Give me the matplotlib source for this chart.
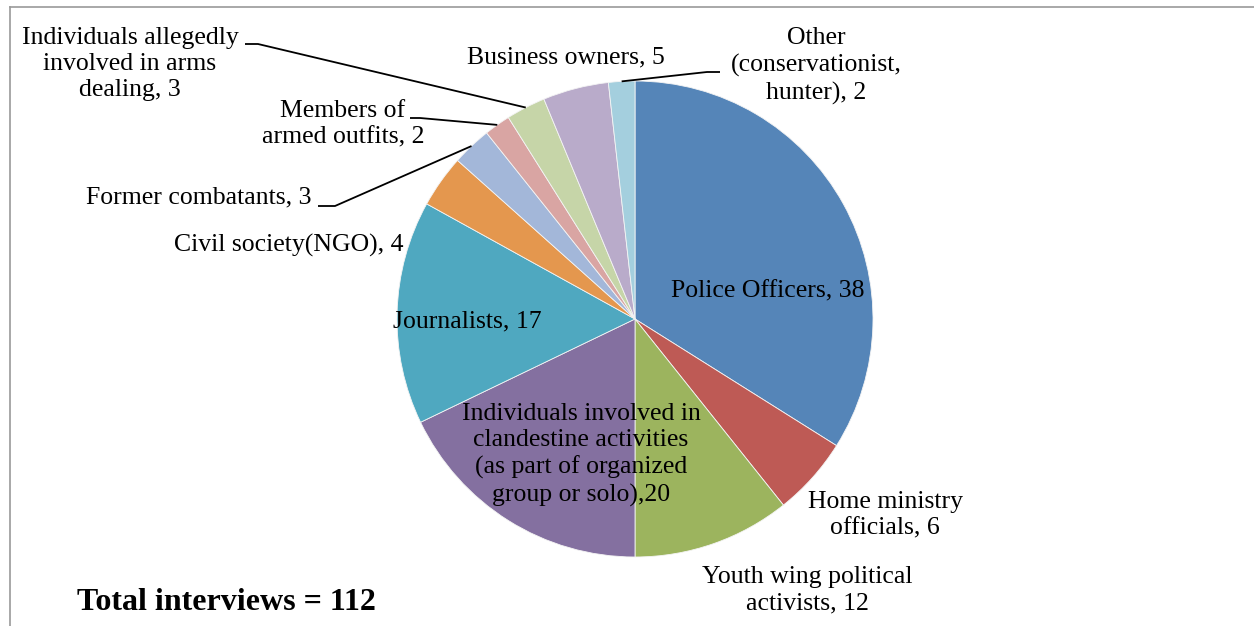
import numpy as np
import matplotlib.pyplot as plt
from matplotlib.lines import Line2D

# interview counts, clockwise from 12 o'clock
categories = [
    "Police Officers", "Home ministry officials", "Youth wing political activists",
    "Individuals involved in clandestine activities", "Journalists",
    "Civil society(NGO)", "Former combatants", "Members of armed outfits",
    "Individuals allegedly involved in arms dealing", "Business owners",
    "Other (conservationist, hunter)",
]
counts = [38, 6, 12, 20, 17, 4, 3, 2, 3, 5, 2]
labels = [
    "Police Officers, 38",
    "Home ministry\nofficials, 6",
    "Youth wing political\nactivists, 12",
    "Individuals involved in\nclandestine activities\n(as part of organized\ngroup or solo),20",
    "Journalists, 17",
    "Civil society(NGO), 4",
    "Former combatants, 3",
    "Members of\narmed outfits, 2",
    "Individuals allegedly\ninvolved in arms\ndealing, 3",
    "Business owners, 5",
    "Other\n(conservationist,\nhunter), 2",
]
colors = ["#5585B8", "#BE5A55", "#9CB45E", "#8470A0", "#4FA8C0", "#E4974E",
          "#A3B7D9", "#D9A5A3", "#C6D5A8", "#B9ABCA", "#A4CFDE"]

W, H = 1254, 626
fig = plt.figure(figsize=(W / 100, H / 100), dpi=100)
ax = fig.add_axes([0, 0, 1, 1])

cx, cy, r = 635, H - 319, 238
wedges, _ = ax.pie(counts, colors=colors, startangle=90, counterclock=False,
                   center=(cx, cy), radius=r, frame=True,
                   wedgeprops=dict(linewidth=0.6, edgecolor="#f4f4f4"))
ax.set_xlim(0, W)
ax.set_ylim(0, H)
ax.set_aspect("equal")
ax.axis("off")

font = dict(family="Liberation Serif", fontsize=18.5, color="black")

# label positions in pixel coords (y from top)
label_pos = [
    (768, 291),
    (885, 515),
    (807, 590),
    (581, 455),
    (467, 321),
    (289, 245),
    (199, 197),
    (343, 124),
    (130, 64),
    (566, 57),
    (816, 66),
]
for lab, (x, y) in zip(labels, label_pos):
    ax.text(x, H - y, lab, ha="center", va="center", linespacing=1.25, **font)

# leader lines: (wedge index, elbow point, end point) in pixel coords
leaders = [
    (8, (258, 44), (245, 44)),
    (7, (420, 118), (410, 118)),
    (6, (335, 206), (318, 206)),
    (10, (707, 72), (720, 72)),
]
total = sum(counts)
cum = np.cumsum([0] + counts)
for i, elbow, end in leaders:
    mid = (cum[i] + counts[i] / 2) / total * 360
    ang = np.deg2rad(90 - mid)
    px, py = cx + r * np.cos(ang), cy + r * np.sin(ang)
    ax.plot([px, elbow[0], end[0]], [py, H - elbow[1], H - end[1]],
            color="black", lw=1.3, solid_capstyle="butt")

ax.text(77, H - 602, "Total interviews = 112", ha="left", va="center",
        family="Liberation Serif", fontsize=23, fontweight="bold")

# chart frame (top and left edges visible)
fig.add_artist(Line2D([10 / W, 1], [1 - 7 / H, 1 - 7 / H], color="#9a9a9a", lw=1.2))
fig.add_artist(Line2D([10 / W, 10 / W], [0, 1 - 7 / H], color="#9a9a9a", lw=1.2))

fig.savefig("out.png", dpi=100, facecolor="white")
